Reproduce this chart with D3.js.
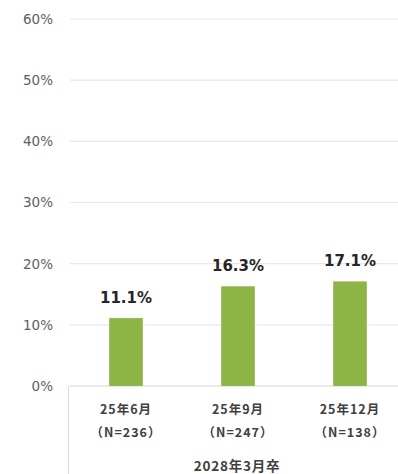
<!DOCTYPE html>
<html><head><meta charset="utf-8">
<script src="https://cdn.jsdelivr.net/npm/d3@7"></script>
<style>body{margin:0;background:#fff;}svg{display:block;}</style>
</head><body><svg id="c" width="398" height="474"></svg>
<script>
const categories = ["25年6月", "25年9月", "25年12月"];
const sampleSizes = ["（N=236）", "（N=247）", "（N=138）"];
const groupLabel = "2028年3月卒";
const values = [11.1, 16.3, 17.1];
const yTicks = [0, 10, 20, 30, 40, 50, 60];

const svg = d3.select("#c");
const jp = "'Noto Sans CJK JP','Noto Sans',sans-serif";
const lat = "'DejaVu Sans',Verdana,sans-serif";
const m = {left: 70, top: 19, bottom: 386, right: 406};
const x = d3.scaleBand().domain(categories).range([m.left, m.right]).paddingInner(0.7).paddingOuter(0.35);
const y = d3.scaleLinear().domain([0, 60]).range([m.bottom, m.top]);

// gridlines
svg.append("g").selectAll("line").data(yTicks).join("line")
  .attr("x1", m.left).attr("x2", 398)
  .attr("y1", d => y(d)).attr("y2", d => y(d))
  .attr("stroke", d => d === 0 ? "#d9d9d9" : "#e8e8e8").attr("stroke-width", 1.2);

// y labels
svg.append("g").selectAll("text").data(yTicks).join("text")
  .attr("x", 53).attr("y", d => y(d)).attr("dy", "0.36em")
  .attr("text-anchor", "end").attr("font-family", lat).attr("font-size", 13.5)
  .attr("fill", "#606060").text(d => d + "%");

// left category axis separator
svg.append("line").attr("x1", m.left - 1.5).attr("x2", m.left - 1.5)
  .attr("y1", m.bottom).attr("y2", 474).attr("stroke", "#d9d9d9").attr("stroke-width", 1.2);

// bars
svg.append("g").selectAll("rect").data(values).join("rect")
  .attr("x", (d, i) => x(categories[i])).attr("width", x.bandwidth())
  .attr("y", d => y(d)).attr("height", d => y(0) - y(d))
  .attr("fill", "#8db446");

// value labels
svg.append("g").selectAll("text").data(values).join("text")
  .attr("x", (d, i) => x(categories[i]) + x.bandwidth() / 2)
  .attr("y", d => y(d) - 15)
  .attr("text-anchor", "middle").attr("font-family", lat).attr("font-size", 15)
  .attr("font-weight", "bold").attr("fill", "#262626").text(d => d.toFixed(1) + "%");

// category labels
const cg = svg.append("g");
cg.selectAll("text.cat").data(categories).join("text").attr("class", "cat")
  .attr("x", d => x(d) + x.bandwidth() / 2).attr("y", 414)
  .attr("text-anchor", "middle").attr("font-family", jp).attr("font-size", 12.5)
  .attr("letter-spacing", 1).attr("font-weight", "bold").attr("fill", "#404040").text(d => d);
cg.selectAll("text.n").data(sampleSizes).join("text").attr("class", "n")
  .attr("x", (d, i) => x(categories[i]) + x.bandwidth() / 2).attr("y", 437)
  .attr("text-anchor", "middle").attr("font-family", jp).attr("font-size", 12.5)
  .attr("letter-spacing", 1).attr("font-weight", "bold").attr("fill", "#404040").text(d => d);
svg.append("text").attr("x", 237).attr("y", 471).attr("text-anchor", "middle")
  .attr("font-family", jp).attr("font-size", 13.5).attr("font-weight", "bold")
  .attr("letter-spacing", 0.8).attr("fill", "#404040").text(groupLabel);
</script></body></html>
